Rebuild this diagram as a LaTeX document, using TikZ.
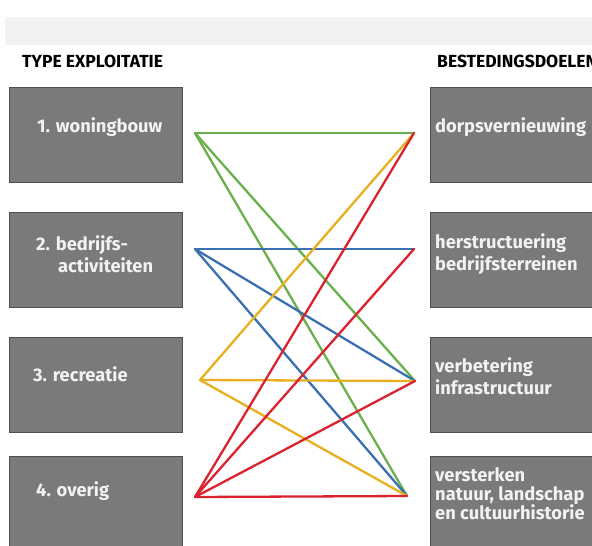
\documentclass[tikz,border=0pt]{standalone}
\usepackage{fontspec}
\setmainfont{Fira Sans}
\definecolor{bandgray}{HTML}{F2F2F2}
\definecolor{boxgray}{HTML}{7A7A7A}
\definecolor{boxedge}{HTML}{505050}
\definecolor{boxtext}{HTML}{F2F2F2}
\definecolor{lgreen}{HTML}{6AB04C}
\definecolor{lblue}{HTML}{3A6FB0}
\definecolor{lyellow}{HTML}{E8B020}
\definecolor{lred}{HTML}{D9232E}
\begin{document}
\begin{tikzpicture}[x=1pt,y=-1pt,
  box/.style={draw=boxedge,line width=0.8pt,fill=boxgray,minimum width=173pt,minimum height=95pt,inner sep=0pt,anchor=north west},
  btext/.style={text=boxtext,font=\bfseries\fontsize{18.3}{22}\selectfont,anchor=west,inner sep=0pt,align=left},
  head/.style={text=black,font=\bfseries\fontsize{17.5}{19}\selectfont,anchor=west,inner sep=0pt},
  link/.style={line width=2.3pt,line cap=round}]
\useasboundingbox (0,0) rectangle (592,546);
\clip (0,0) rectangle (592,546);
\fill[white] (0,0) rectangle (592,546);
\fill[bandgray] (5,17) rectangle (592,45);
\node[head] (h1) at (22,61) {TYPE EXPLOITATIE};
\node[head] (h2) at (437,61) {BESTEDINGSDOELEN};
% left boxes
\node[box] (lb1) at (9,87) {};
\node[box] (lb2) at (9,212) {};
\node[box] (lb3) at (9,337) {};
\node[box] (lb4) at (9,456) {};
% right boxes
\node[box] (rb1) at (430,87) {};
\node[box] (rb2) at (430,212) {};
\node[box] (rb3) at (430,337) {};
\node[box] (rb4) at (430,456) {};
% left texts
\node[btext] (lt1) at (37,127) {1. woningbouw};
\node[btext] (lt2) at (36,254) {2. bedrijfs-\\\hspace*{22pt}activiteiten};
\node[btext] (lt3) at (33,374) {3. recreatie};
\node[btext] (lt4) at (36,491) {4. overig};
% right texts
\node[btext] (rt1) at (435,127) {dorpsvernieuwing};
\node[btext] (rt2) at (435,254) {herstructuering\\bedrijfsterreinen};
\node[btext] (rt3) at (435,376) {verbetering\\infrastructuur};
\node[btext,font=\bfseries\fontsize{18.3}{18.5}\selectfont] (rt4) at (435,494) {versterken\\natuur, landschap\\en cultuurhistorie};
% connection points
\coordinate (L1) at (195,133);
\coordinate (L2) at (195,249);
\coordinate (L3) at (200,380);
\coordinate (L4) at (195,497);
\coordinate (R1) at (414,133);
\coordinate (R2) at (414,249);
\coordinate (R3) at (415,381);
\coordinate (R4) at (407,496);
% links
\draw[link,lgreen] (L1) -- (R1);
\draw[link,lgreen] (L1) -- (R3);
\draw[link,lgreen] (L1) -- (R4);
\draw[link,lblue] (L2) -- (R2);
\draw[link,lblue] (L2) -- (R3);
\draw[link,lblue] (L2) -- (R4);
\draw[link,lyellow] (L3) -- (R1);
\draw[link,lyellow] (L3) -- (R3);
\draw[link,lyellow] (L3) -- (R4);
\draw[link,lred] (L4) -- (R1);
\draw[link,lred] (L4) -- (R2);
\draw[link,lred] (L4) -- (R3);
\draw[link,lred] (L4) -- (R4);
\end{tikzpicture}
\end{document}
